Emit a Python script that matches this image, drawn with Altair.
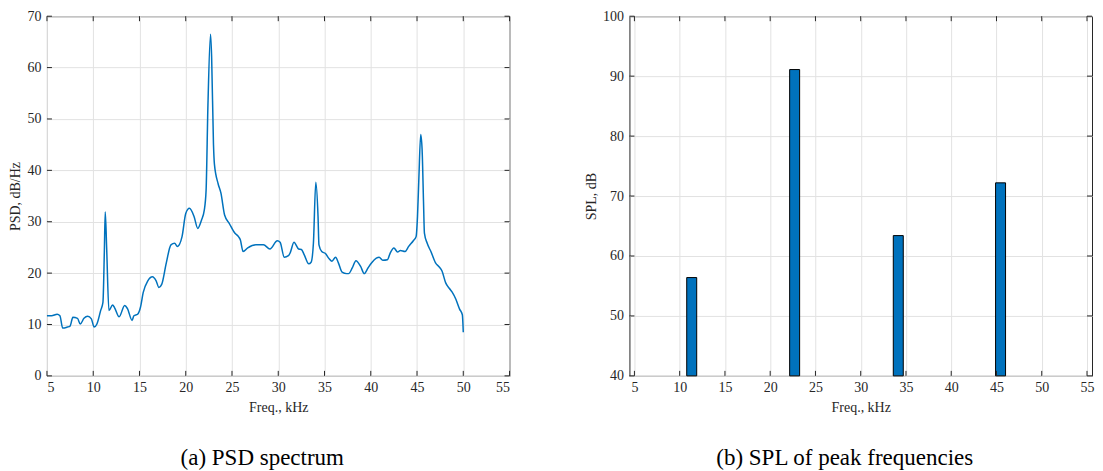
import altair as alt
import pandas as pd

# ---- data ----
freq = [5.0, 5.5, 6.1, 6.4, 6.7, 7.2, 7.5, 7.8, 8.3, 8.6, 9.0, 9.4, 9.8, 10.1, 10.4, 10.8,
        11.05, 11.2, 11.3, 11.45, 11.7, 12.1, 12.3, 12.8, 13.4, 13.7, 14.2, 14.4, 14.8, 15.1,
        15.4, 15.9, 16.4, 16.8, 17.1, 17.4, 17.9, 18.4, 18.8, 19.1, 19.6, 20.0, 20.4, 20.9,
        21.3, 21.7, 22.0, 22.2, 22.4, 22.68, 22.8, 23.0, 23.1, 23.5, 23.8, 24.2, 24.7, 25.3,
        25.7, 25.9, 26.2, 26.7, 27.6, 28.4, 29.1, 29.9, 30.2, 30.65, 31.1, 31.3, 31.7, 32.2,
        32.5, 32.8, 33.3, 33.55, 33.8, 34.06, 34.3, 34.4, 34.7, 35.1, 35.5, 35.8, 36.2, 36.5,
        36.9, 37.4, 37.6, 38.0, 38.4, 38.9, 39.3, 39.7, 40.1, 40.6, 40.9, 41.3, 41.8, 42.1,
        42.5, 42.9, 43.2, 43.7, 44.1, 44.6, 44.9, 45.05, 45.2, 45.4, 45.55, 45.7, 45.8, 46.1,
        46.5, 47.0, 47.4, 47.7, 48.1, 48.5, 48.8, 49.2, 49.6, 49.9, 50.0]
psd = [11.7, 11.7, 12.0, 11.7, 9.3, 9.5, 9.7, 11.4, 11.2, 10.1, 11.2, 11.6, 11.1, 9.5, 10.1, 12.7,
       14.3, 24.0, 31.9, 25.0, 12.7, 13.8, 13.3, 11.5, 13.7, 13.1, 10.8, 11.7, 12.0, 13.3,
       16.2, 18.5, 19.3, 18.5, 17.2, 17.8, 22.0, 25.5, 25.8, 25.2, 27.1, 31.6, 32.6, 31.0,
       28.7, 30.3, 32.2, 36.1, 52.7, 66.5, 62.0, 45.0, 41.2, 37.4, 35.6, 31.3, 29.7, 27.8,
       27.1, 26.5, 24.2, 24.9, 25.5, 25.5, 24.7, 26.3, 26.0, 23.1, 23.4, 24.0, 26.0, 24.7,
       24.6, 23.6, 21.8, 22.1, 25.8, 37.7, 31.0, 25.5, 24.2, 23.8, 22.8, 22.3, 23.1, 22.0,
       20.2, 19.9, 19.9, 21.0, 22.4, 21.3, 19.9, 21.0, 22.0, 22.9, 23.1, 22.5, 22.6, 23.9,
       24.9, 24.1, 24.4, 24.2, 25.2, 26.3, 27.1, 31.0, 38.5, 47.0, 44.0, 34.0, 27.8, 25.8,
       24.2, 22.0, 21.2, 20.4, 18.1, 17.0, 16.3, 14.9, 13.0, 11.9, 8.5]

peak_freq = [11.33, 22.7, 34.15, 45.45]
peak_spl = [56.4, 91.1, 63.4, 72.2]

x_ticks = [5, 10, 15, 20, 25, 30, 35, 40, 45, 50, 55]
y_ticks_a = [0, 10, 20, 30, 40, 50, 60, 70]
y_ticks_b = [40, 50, 60, 70, 80, 90, 100]

W, H = 463, 360
FONT = "Liberation Serif"
AX = "#262626"
BLUE = "#0072BD"
TL = 5  # inward tick length
FS = 14

psd_df = pd.DataFrame({"f": freq, "v": psd})
bar_df = pd.DataFrame({"f": peak_freq, "v": peak_spl})


def axis_x():
    return alt.Axis(values=x_ticks, title="Freq., kHz", ticks=False, domain=False, grid=True,
                    labelPadding=5, titlePadding=6, format="d",
                    labelFont=FONT, labelFontSize=FS, labelColor=AX,
                    titleFont=FONT, titleFontSize=FS, titleFontWeight="normal", titleColor=AX,
                    gridColor="#e2e2e2")


def axis_y(title, vals):
    return alt.Axis(values=vals, title=title, ticks=False, domain=False, grid=True,
                    labelPadding=6, titlePadding=4, format="d",
                    labelFont=FONT, labelFontSize=FS, labelColor=AX,
                    titleFont=FONT, titleFontSize=FS, titleFontWeight="normal", titleColor=AX,
                    gridColor="#e2e2e2")


def panel(main, x_scale, y_scale, y_vals, y_title, caption):
    xt_df = pd.DataFrame({"tx": x_ticks})
    yt_df = pd.DataFrame({"ty": y_vals})
    ax_x = axis_x()
    ax_y = axis_y(y_title, y_vals)
    xb = alt.Chart(xt_df).mark_rule(color=AX, strokeWidth=1).encode(
        x=alt.X("tx:Q", scale=x_scale, axis=ax_x), y=alt.value(H - TL), y2=alt.value(H))
    xt = alt.Chart(xt_df).mark_rule(color=AX, strokeWidth=1).encode(
        x=alt.X("tx:Q", scale=x_scale, axis=ax_x), y=alt.value(0), y2=alt.value(TL))
    yl = alt.Chart(yt_df).mark_rule(color=AX, strokeWidth=1).encode(
        y=alt.Y("ty:Q", scale=y_scale, axis=ax_y), x=alt.value(0), x2=alt.value(TL))
    yr = alt.Chart(yt_df).mark_rule(color=AX, strokeWidth=1).encode(
        y=alt.Y("ty:Q", scale=y_scale, axis=ax_y), x=alt.value(W - TL), x2=alt.value(W))
    return alt.layer(main, xb, xt, yl, yr).properties(
        width=W, height=H,
        title=alt.TitleParams(caption, orient="bottom", anchor="middle", dx=-16,
                              font=FONT, fontSize=23, fontWeight="normal", color="black",
                              offset=32),
    )


xs = alt.Scale(domain=[5, 55], nice=False)
ysa = alt.Scale(domain=[0, 70], nice=False)
ysb = alt.Scale(domain=[40, 100], nice=False)

line = alt.Chart(psd_df).mark_line(color=BLUE, strokeWidth=1.5, interpolate="monotone").encode(
    x=alt.X("f:Q", scale=xs, axis=axis_x()),
    y=alt.Y("v:Q", scale=ysa, axis=axis_y("PSD, dB/Hz", y_ticks_a)),
)

bars = alt.Chart(bar_df).mark_bar(color=BLUE, stroke="black", strokeWidth=1, size=10).encode(
    x=alt.X("f:Q", scale=xs, axis=axis_x()),
    y=alt.Y("v:Q", scale=ysb, axis=axis_y("SPL, dB", y_ticks_b)),
    y2=alt.datum(40),
)

left = panel(line, xs, ysa, y_ticks_a, "PSD, dB/Hz", "(a) PSD spectrum")
right = panel(bars, xs, ysb, y_ticks_b, "SPL, dB", "(b) SPL of peak frequencies")

chart = alt.hconcat(left, right, spacing=120, bounds="flush").properties(
    padding={"left": 0, "top": 0, "right": 0, "bottom": 0}
).configure_view(
    stroke=AX, strokeWidth=1
)

chart.save("out.html", embed_options={"renderer": "svg", "actions": False})
